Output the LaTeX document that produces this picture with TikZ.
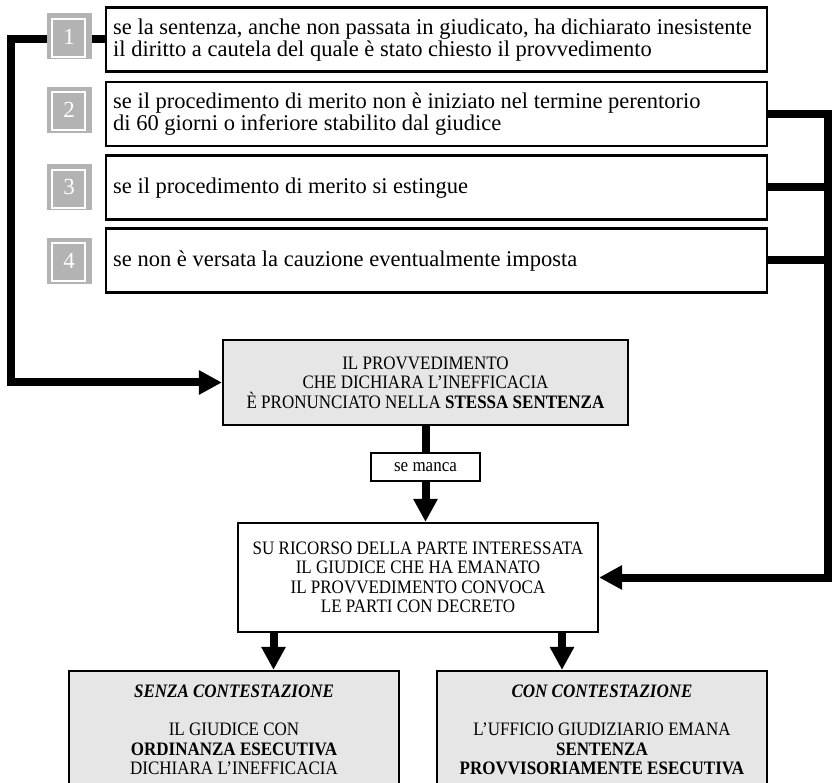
\documentclass[tikz,border=0pt]{standalone}
\usepackage{fontspec}
\setmainfont{Liberation Serif}
\newfontfamily\condfont[FakeStretch=0.895,Ligatures=TeX]{Liberation Serif}
\usetikzlibrary{arrows.meta,calc}
\definecolor{boxfill}{HTML}{E6E6E6}
\definecolor{numfill}{HTML}{B3B3B3}
\begin{document}
\begin{tikzpicture}[x=1pt,y=-1pt,
  cbox/.style={draw=black, line width=2.2pt, minimum width=661pt, minimum height=64pt, inner sep=0pt},
  ctext/.style={anchor=west, align=left, inner sep=0pt, font=\fontsize{22.5}{22}\selectfont},
  numsq/.style={fill=numfill, minimum width=45pt, minimum height=46pt, inner sep=0pt, text=white, font=\fontsize{23}{23}\selectfont},
  capbox/.style={draw=black, line width=2.2pt, inner sep=0pt, align=center, font=\condfont\fontsize{19}{19.5}\selectfont},
  captext/.style={inner sep=0pt, align=center, font=\condfont\fontsize{19}{19.5}\selectfont},
  link/.style={line width=8pt},
  conn/.style={line width=8pt, -{Triangle[length=23pt,width=23pt]}},
]
\clip (0,0) rectangle (833,783);
\fill[white] (0,0) rectangle (833,783);

% condition boxes
\node[cbox] (b1) at (436.5,39.5) {};
\node[cbox] (b2) at (436.5,114) {};
\node[cbox] (b3) at (436.5,187.5) {};
\node[cbox] (b4) at (436.5,260.5) {};
\node[ctext] (t1) at (113,40) {se la sentenza, anche non passata in giudicato, ha dichiarato inesistente\\il diritto a cautela del quale è stato chiesto il provvedimento};
\node[ctext] (t2) at (113,114.5) {se il procedimento di merito non è iniziato nel termine perentorio\\di 60 giorni o inferiore stabilito dal giudice};
\node[ctext] (t3) at (113,188) {se il procedimento di merito si estingue};
\node[ctext] (t4) at (113,261) {se non è versata la cauzione eventualmente imposta};

% central boxes
\node[capbox, fill=boxfill, minimum width=405pt, minimum height=85pt] (prov) at (425.5,382.5)
  {IL PROVVEDIMENTO\\CHE DICHIARA L’INEFFICACIA\\È PRONUNCIATO NELLA \textbf{STESSA SENTENZA}};
\node[capbox, fill=white, minimum width=109pt, minimum height=28pt] (sm) at (425.5,467) {se manca};
\node[capbox, fill=white, minimum width=360pt, minimum height=109pt] (su) at (418,577.5)
  {SU RICORSO DELLA PARTE INTERESSATA\\IL GIUDICE CHE HA EMANATO\\IL PROVVEDIMENTO CONVOCA\\LE PARTI CON DECRETO};

% lower boxes
\node[draw=black, line width=2.2pt, fill=boxfill, minimum width=330pt, minimum height=140pt] (lb) at (234,741) {};
\node[draw=black, line width=2.2pt, fill=boxfill, minimum width=330pt, minimum height=140pt] (rb) at (602,741) {};
\node[captext, anchor=north] (lbt) at (234,684.5)
  {\textbf{\textit{SENZA CONTESTAZIONE}}\\[19pt]IL GIUDICE CON\\\textbf{ORDINANZA ESECUTIVA}\\DICHIARA L’INEFFICACIA};
\node[captext, anchor=north] (rbt) at (602,684.5)
  {\textbf{\textit{CON CONTESTAZIONE}}\\[19pt]L’UFFICIO GIUDIZIARIO EMANA\\\textbf{SENTENZA}\\\textbf{PROVVISORIAMENTE ESECUTIVA}};

% connectors
\coordinate (lc) at (11,39.5);
\draw[conn] (b1.west) -- (lc) |- (prov.west);
\coordinate (rc) at (828,114);
\draw[conn] (b2.east) -- (rc) |- (su.east);
\draw[link] (b3.east) -- (b3.east -| rc);
\draw[link] (b4.east) -- (b4.east -| rc);
\draw[link] (prov.south) -- (sm.north);
\draw[conn] (sm.south) -- (sm.south |- su.north);
\coordinate (xl) at (273.5,0);
\coordinate (xr) at (562,0);
\draw[conn] (su.south -| xl) -- (xl |- lb.north);
\draw[conn] (su.south -| xr) -- (xr |- rb.north);

% number squares
\foreach \i/\y in {1/36.5,2/110,3/187.5,4/261} {
  \node[numsq] (n\i) at (69,\y) {\i};
  \draw[white, line width=1.8pt] ([xshift=6pt,yshift=-5.5pt]n\i.north west) rectangle ([xshift=-6.5pt,yshift=3pt]n\i.south east);
}
\end{tikzpicture}
\end{document}
